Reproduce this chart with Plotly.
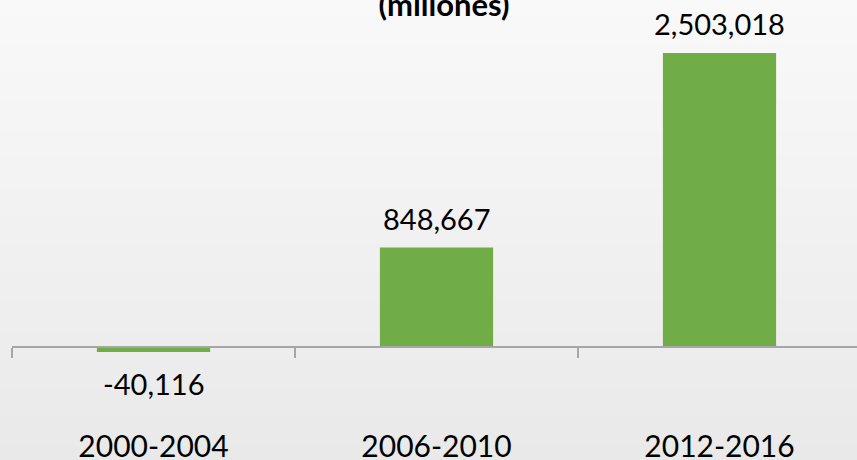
import base64
import struct
import zlib

import plotly.graph_objects as go

# data (millones)
periods = ["2000-2004", "2006-2010", "2012-2016"]
values = [-40116, 848667, 2503018]
title_text = "(millones)"

BAR_COLOR = "#70AD47"
FONT = "Lato, 'Century Gothic', 'Noto Sans', sans-serif"
W, H = 857, 460

# plot area in page pixels; zero line sits at y=347.3, tallest bar top at y=53
top_px, bottom_px, zero_px, max_px = 40, 410, 347.3, 53
units_per_px = max(values) / (zero_px - max_px)
y_max = (zero_px - top_px) * units_per_px
y_min = -(bottom_px - zero_px) * units_per_px
zero_pos = (bottom_px - zero_px) / (bottom_px - top_px)


def gradient_png(h, top=249, bottom=233):
    """1px wide vertical grey gradient as a data uri (light top -> darker bottom)."""
    raw = b""
    for i in range(h):
        v = round(top + (bottom - top) * i / (h - 1))
        raw += b"\x00" + bytes([v, v, v])

    def chunk(tag, data):
        c = struct.pack(">I", len(data)) + tag + data
        return c + struct.pack(">I", zlib.crc32(tag + data) & 0xFFFFFFFF)

    png = b"\x89PNG\r\n\x1a\n"
    png += chunk(b"IHDR", struct.pack(">IIBBBBB", 1, h, 8, 2, 0, 0, 0))
    png += chunk(b"IDAT", zlib.compress(raw))
    png += chunk(b"IEND", b"")
    return "data:image/png;base64," + base64.b64encode(png).decode()


fig = go.Figure()

fig.add_trace(go.Bar(
    x=periods,
    y=values,
    marker=dict(color=BAR_COLOR, line=dict(width=0)),
    width=0.4,
    hoverinfo="skip",
))

# value labels above / below each bar
for p, v in zip(periods, values):
    fig.add_annotation(
        x=p, y=v, xref="x", yref="y",
        text=f"{v:,}",
        showarrow=False,
        yanchor="bottom" if v >= 0 else "top",
        yshift=10 if v >= 0 else -12,
        font=dict(family=FONT, size=29, color="#000000"),
    )

plot_w = W - 12
plot_h = bottom_px - top_px
fig.add_layout_image(
    source=gradient_png(H),
    xref="paper", yref="paper",
    x=-12 / plot_w, y=1 + top_px / plot_h,
    sizex=W / plot_w, sizey=H / plot_h,
    xanchor="left", yanchor="top",
    sizing="stretch", layer="below",
)

cat_width = plot_w / 283.0

fig.update_layout(
    width=W,
    height=H,
    margin=dict(l=12, r=0, t=top_px, b=H - bottom_px, pad=0),
    paper_bgcolor="#f2f2f2",
    plot_bgcolor="rgba(0,0,0,0)",
    showlegend=False,
    title=dict(
        text=f"<b>{title_text}</b>",
        x=444 / W, xref="container", xanchor="center",
        y=1 - 5 / H, yref="container", yanchor="middle",
        font=dict(family=FONT, size=31, color="#000000"),
        automargin=False,
    ),
    # category axis sits on the zero line, labels pushed down to the bottom
    xaxis=dict(
        type="category",
        range=[-0.5, -0.5 + cat_width],
        anchor="free",
        position=zero_pos,
        automargin=False,
        showline=True,
        linecolor="#a6a6a6",
        linewidth=1.5,
        ticks="outside",
        tickson="boundaries",
        ticklen=10,
        tickwidth=1.5,
        tickcolor="#a6a6a6",
        showgrid=False,
        zeroline=False,
        ticklabelstandoff=73,
        tickfont=dict(family=FONT, size=30, color="#000000"),
    ),
    yaxis=dict(
        range=[y_min, y_max],
        visible=False,
        automargin=False,
        showgrid=False,
        zeroline=False,
    ),
)

fig.write_html(
    "out.html",
    config={"displayModeBar": False},
    post_script="document.body.style.margin='0';",
)
